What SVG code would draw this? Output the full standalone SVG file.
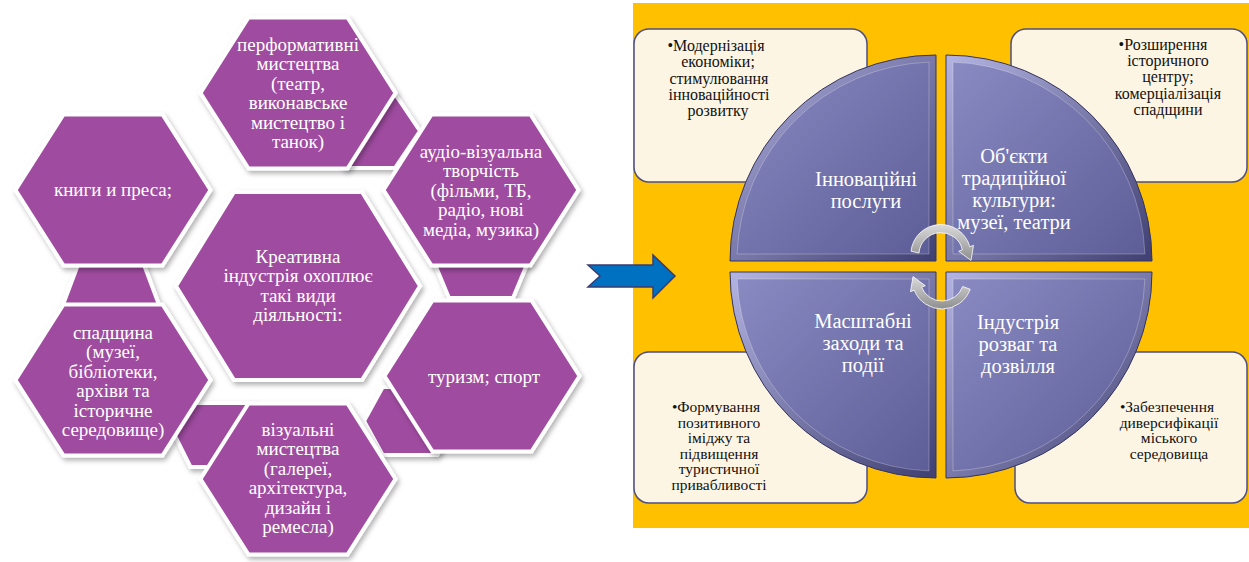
<svg xmlns="http://www.w3.org/2000/svg" xmlns:xlink="http://www.w3.org/1999/xlink" width="1249" height="562" viewBox="0 0 1249 562">
<defs>
<filter id="sh" x="-20%" y="-20%" width="140%" height="140%"><feDropShadow dx="2" dy="3" stdDeviation="2.5" flood-color="#000" flood-opacity="0.3"/></filter>
<polygon id="hexS" points="-97.5,0 -49.5,-75.5 49.5,-75.5 97.5,0 49.5,75.5 -49.5,75.5"/>
<polygon id="hexL" points="-122,0 -64,-94 64,-94 122,0 64,94 -64,94"/>
<linearGradient id="rim" x1="0" y1="0" x2="1" y2="1"><stop offset="0" stop-color="#B4B4E2"/><stop offset="1" stop-color="#3F3F72"/></linearGradient>
<linearGradient id="face" x1="0" y1="0" x2="1" y2="1"><stop offset="0" stop-color="#8A8AC3"/><stop offset="1" stop-color="#5D5D97"/></linearGradient>
<linearGradient id="gry" x1="0" y1="0" x2="0" y2="1"><stop offset="0" stop-color="#DADADA"/><stop offset="1" stop-color="#8E8E8E"/></linearGradient>
<style>
.hx{fill:#9F4BA0;stroke:#fff;stroke-width:4;stroke-linejoin:miter;filter:url(#sh)}
.ht{font-family:"Liberation Serif","DejaVu Serif",serif;font-size:19px;fill:#fff;text-anchor:middle}
.box{fill:#FDF5E4;stroke:#4F4F80;stroke-width:1.5}
.bt{font-family:"Liberation Serif","DejaVu Serif",serif;font-size:16px;fill:#111;text-anchor:middle}
.bt2{font-family:"Liberation Serif","DejaVu Serif",serif;font-size:15.5px;fill:#111;text-anchor:middle}
.qo{fill:url(#rim);stroke:#34345E;stroke-width:1}
.qi{fill:url(#face);stroke:#fff;stroke-opacity:0.25;stroke-width:1}
.qt{font-family:"Liberation Serif","DejaVu Serif",serif;font-size:20.5px;fill:#fff;text-anchor:middle}
.ca{fill:url(#gry);stroke:#fff;stroke-width:1;stroke-opacity:0.8}
</style>
</defs>
<rect width="1249" height="562" fill="#fff"/>

<g id="accents">
<polygon class="hx" points="320,131 345,94 395,94 420,131 395,168 345,168"/>
<polygon class="hx" points="61,310 79,262 143,262 161,310 143,358 79,358"/>
<polygon class="hx" points="429,250 449,202 513,202 533,250 513,298 449,298"/>
<polygon class="hx" points="174.5,435 190.5,403 254.5,403 270.5,435 254.5,467 190.5,467"/>
<polygon class="hx" points="364,421 382.7,387 437.3,387 456,421 437.3,455 382.7,455"/>
</g>

<g id="n-perf">
<use xlink:href="#hexS" x="298" y="93" class="hx"/>
<text class="ht" x="298" y="51"><tspan x="298">перформативні</tspan><tspan x="298" dy="19.4">мистецтва</tspan><tspan x="298" dy="19.4">(театр,</tspan><tspan x="298" dy="19.4">виконавське</tspan><tspan x="298" dy="19.4">мистецтво і</tspan><tspan x="298" dy="19.4">танок)</tspan></text>
</g>
<g id="n-books">
<use xlink:href="#hexS" x="113" y="190" class="hx"/>
<text class="ht" x="113" y="196">книги и преса;</text>
</g>
<g id="n-audio">
<use xlink:href="#hexS" x="481" y="190" class="hx"/>
<text class="ht" x="481" y="158"><tspan x="481">аудіо-візуальна</tspan><tspan x="481" dy="19.4">творчість</tspan><tspan x="481" dy="19.4">(фільми, ТБ,</tspan><tspan x="481" dy="19.4">радіо, нові</tspan><tspan x="481" dy="19.4">медіа, музика)</tspan></text>
</g>
<g id="n-heritage">
<use xlink:href="#hexS" x="113" y="380" class="hx"/>
<text class="ht" x="113" y="339"><tspan x="113">спадщина</tspan><tspan x="113" dy="19.4">(музеї,</tspan><tspan x="113" dy="19.4">бібліотеки,</tspan><tspan x="113" dy="19.4">архіви та</tspan><tspan x="113" dy="19.4">історичне</tspan><tspan x="113" dy="19.4">середовище)</tspan></text>
</g>
<g id="n-tourism">
<use xlink:href="#hexS" x="482" y="376" class="hx"/>
<text class="ht" x="484" y="383">туризм; спорт</text>
</g>
<g id="n-visual">
<use xlink:href="#hexS" x="298" y="479" class="hx"/>
<text class="ht" x="298" y="436"><tspan x="298">візуальні</tspan><tspan x="298" dy="19.4">мистецтва</tspan><tspan x="298" dy="19.4">(галереї,</tspan><tspan x="298" dy="19.4">архітектура,</tspan><tspan x="298" dy="19.4">дизайн і</tspan><tspan x="298" dy="19.4">ремесла)</tspan></text>
</g>
<g id="n-center">
<use xlink:href="#hexL" x="298" y="286" class="hx"/>
<text class="ht" x="298" y="263"><tspan x="298">Креативна</tspan><tspan x="298" dy="19.3">індустрія охоплює</tspan><tspan x="298" dy="19.3">такі види</tspan><tspan x="298" dy="19.3">діяльності:</tspan></text>
</g>

<rect id="panel" x="633" y="3" width="616" height="525" fill="#FFC000"/>

<g id="connectors">
<polygon points="588,265 653,265 653,255 675,276 653,298 653,287 588,287 600,276" fill="#0070C0" stroke="#3B3B70" stroke-width="1.5" stroke-linejoin="miter"/>
</g>

<g id="c-tl"><rect class="box" x="634" y="29" width="233" height="153" rx="15"/>
<text class="bt" x="716" y="51"><tspan x="716">•Модернізація</tspan><tspan x="718" dy="16.3">економіки;</tspan><tspan x="719" dy="16.3">стимулювання</tspan><tspan x="719" dy="16.3">інноваційності</tspan><tspan x="718" dy="16.3">розвитку</tspan></text></g>
<g id="c-tr"><rect class="box" x="1011" y="29" width="236" height="153" rx="15"/>
<text class="bt" x="1166" y="50"><tspan x="1163">•Розширення</tspan><tspan x="1168" dy="16.2">історичного</tspan><tspan x="1168" dy="16.2">центру;</tspan><tspan x="1168" dy="16.2">комерціалізація</tspan><tspan x="1168" dy="16.2">спадщини</tspan></text></g>
<g id="c-bl"><rect class="box" x="634" y="352" width="233" height="151" rx="15"/>
<text class="bt2" x="719" y="412"><tspan x="716">•Формування</tspan><tspan x="719" dy="15.6">позитивного</tspan><tspan x="719" dy="15.6">іміджу та</tspan><tspan x="719" dy="15.6">підвищення</tspan><tspan x="719" dy="15.6">туристичної</tspan><tspan x="719" dy="15.6">привабливості</tspan></text></g>
<g id="c-br"><rect class="box" x="1015" y="352" width="232" height="151" rx="15"/>
<text class="bt2" x="1169" y="412"><tspan x="1167">•Забезпечення</tspan><tspan x="1169" dy="15.6">диверсифікації</tspan><tspan x="1169" dy="15.6">міського</tspan><tspan x="1169" dy="15.6">середовища</tspan></text></g>

<g id="q-tl">
<path class="qo" d="M936,261 L730,261 A206,206 0 0 1 936,55 Z"/>
<path class="qi" d="M929,254 L737.1,254 A199,199 0 0 1 929,62.1 Z"/>
<text class="qt" x="866" y="186"><tspan x="866">Інноваційні</tspan><tspan x="866" dy="22">послуги</tspan></text>
</g>
<g id="q-tr">
<path class="qo" d="M946,261 L946,55 A206,206 0 0 1 1152,261 Z"/>
<path class="qi" d="M953,254 L953,62.1 A199,199 0 0 1 1144.9,254 Z"/>
<text class="qt" x="1014" y="163"><tspan x="1014">Об'єкти</tspan><tspan x="1014" dy="22">традиційної</tspan><tspan x="1014" dy="22">культури:</tspan><tspan x="1014" dy="22">музеї, театри</tspan></text>
</g>
<g id="q-bl">
<path class="qo" d="M936,272 L936,478 A206,206 0 0 1 730,272 Z"/>
<path class="qi" d="M929,279 L929,470.9 A199,199 0 0 1 737.1,279 Z"/>
<text class="qt" x="863" y="328"><tspan x="863">Масштабні</tspan><tspan x="863" dy="22">заходи та</tspan><tspan x="863" dy="22">події</tspan></text>
</g>
<g id="q-br">
<path class="qo" d="M946,272 L1152,272 A206,206 0 0 1 946,478 Z"/>
<path class="qi" d="M953,279 L1144.9,279 A199,199 0 0 1 953,470.9 Z"/>
<text class="qt" x="1018" y="328.5"><tspan x="1018">Індустрія</tspan><tspan x="1018" dy="22">розваг та</tspan><tspan x="1018" dy="22">дозвілля</tspan></text>
</g>

<g id="cycle-arrows">
<path class="ca" d="M911.0,251.2 A30,30 0 0 1 969.8,246.8 L973.5,245.3 L971.0,260.4 L958.7,251.3 L962.4,249.8 A22,22 0 0 0 919.0,253.0 Z"/>
<path class="ca" d="M970.2,289.3 A30,30 0 0 1 914.2,290.2 L910.5,291.7 L913.0,276.6 L925.3,285.7 L921.6,287.2 A22,22 0 0 0 962.7,286.5 Z"/>
</g>
</svg>
